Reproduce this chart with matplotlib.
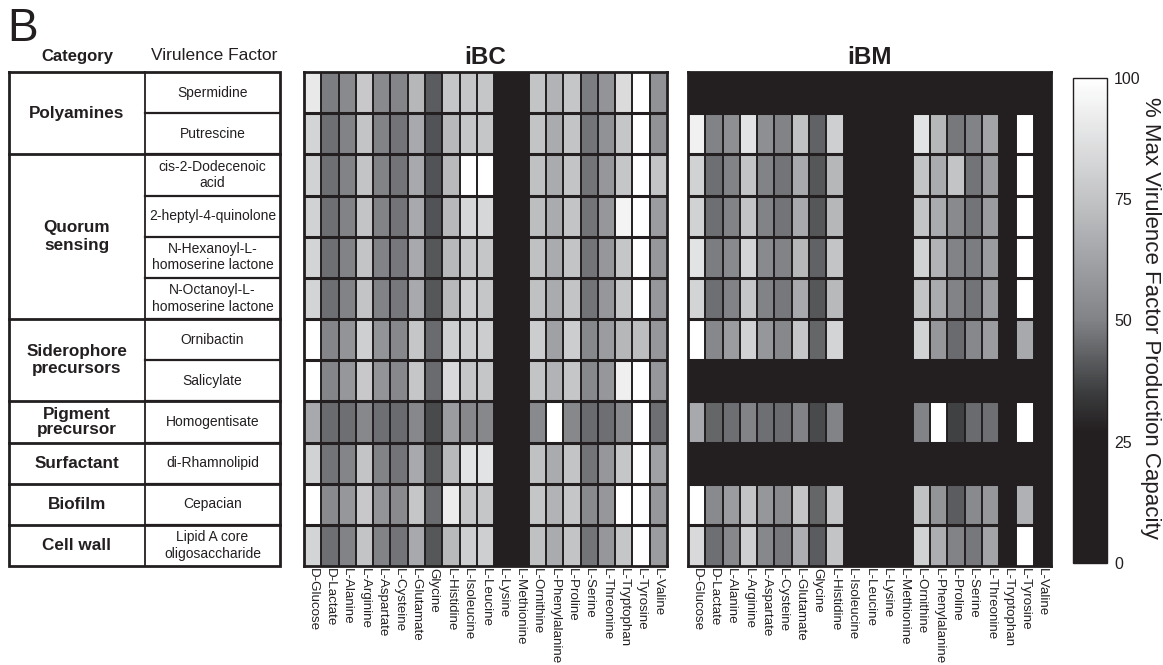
import numpy as np
import matplotlib
matplotlib.use("Agg")
import matplotlib.pyplot as plt
from matplotlib.colors import LinearSegmentedColormap

plt.rcParams['font.family'] = ['Liberation Sans', 'DejaVu Sans']

# ---------------- data ----------------
amino_acids = ["D-Glucose", "D-Lactate", "L-Alanine", "L-Arginine", "L-Aspartate",
               "L-Cysteine", "L-Glutamate", "Glycine", "L-Histidine", "L-Isoleucine",
               "L-Leucine", "L-Lysine", "L-Methionine", "L-Ornithine", "L-Phenylalanine",
               "L-Proline", "L-Serine", "L-Threonine", "L-Tryptophan", "L-Tyrosine", "L-Valine"]

virulence_factors = ["Spermidine", "Putrescine", "cis-2-Dodecenoic\nacid", "2-heptyl-4-quinolone",
                     "N-Hexanoyl-L-\nhomoserine lactone", "N-Octanoyl-L-\nhomoserine lactone",
                     "Ornibactin", "Salicylate", "Homogentisate", "di-Rhamnolipid", "Cepacian",
                     "Lipid A core\noligosaccharide"]

category_names = ["Polyamines", "Quorum\nsensing", "Siderophore\nprecursors", "Pigment\nprecursor",
                  "Surfactant", "Biofilm", "Cell wall"]
category_spans = [2, 4, 2, 1, 1, 1, 1]

ibc_values = [
    [91, 49, 53, 77, 53, 51, 70, 42, 76, 76, 76, 0, 0, 75, 69, 76, 49, 57, 85, 100, 56],
    [82, 46, 50, 75, 50, 47, 65, 40, 71, 76, 76, 0, 0, 75, 66, 75, 47, 56, 76, 100, 56],
    [81, 46, 50, 75, 50, 47, 65, 40, 71, 100, 100, 0, 0, 74, 66, 75, 47, 58, 76, 100, 75],
    [81, 46, 50, 75, 50, 47, 65, 40, 71, 83, 83, 0, 0, 73, 66, 75, 47, 58, 95, 100, 60],
    [82, 46, 50, 75, 50, 48, 65, 41, 71, 76, 76, 0, 0, 74, 66, 75, 47, 58, 76, 100, 58],
    [82, 46, 50, 75, 50, 48, 65, 41, 71, 79, 76, 0, 0, 74, 66, 75, 47, 58, 76, 100, 58],
    [100, 51, 57, 80, 57, 52, 76, 45, 80, 79, 79, 0, 0, 79, 62, 79, 52, 60, 70, 73, 58],
    [100, 51, 58, 77, 57, 52, 76, 45, 84, 76, 76, 0, 0, 75, 69, 76, 52, 58, 93, 100, 58],
    [65, 45, 46, 52, 46, 45, 52, 38, 60, 52, 52, 0, 0, 53, 100, 52, 45, 46, 53, 100, 46],
    [81, 47, 51, 75, 50, 47, 65, 41, 71, 88, 88, 0, 0, 74, 66, 75, 47, 58, 76, 100, 62],
    [100, 53, 58, 77, 57, 53, 76, 45, 92, 76, 76, 0, 0, 76, 69, 76, 53, 58, 100, 100, 58],
    [82, 46, 50, 75, 50, 47, 65, 41, 71, 80, 80, 0, 0, 74, 66, 75, 47, 58, 76, 100, 60],
]

ibm_values = [
    [0] * 21,
    [94, 50, 55, 88, 55, 50, 74, 43, 80, 0, 0, 0, 0, 88, 70, 48, 50, 63, 0, 100, 0],
    [81, 46, 50, 75, 50, 47, 65, 41, 70, 0, 0, 0, 0, 75, 66, 75, 47, 60, 0, 100, 0],
    [81, 46, 50, 75, 50, 47, 65, 41, 70, 0, 0, 0, 0, 75, 66, 53, 47, 60, 0, 100, 0],
    [88, 49, 53, 82, 53, 50, 70, 43, 75, 0, 0, 0, 0, 81, 69, 50, 49, 60, 0, 100, 0],
    [82, 46, 50, 76, 50, 48, 65, 41, 71, 0, 0, 0, 0, 75, 66, 50, 47, 60, 0, 100, 0],
    [100, 52, 60, 81, 58, 52, 76, 44, 82, 0, 0, 0, 0, 81, 58, 45, 52, 60, 0, 65, 0],
    [0] * 21,
    [65, 44, 46, 50, 46, 45, 50, 38, 50, 0, 0, 0, 0, 50, 100, 36, 45, 46, 0, 100, 0],
    [0] * 21,
    [100, 53, 60, 75, 58, 53, 75, 44, 75, 0, 0, 0, 0, 74, 57, 42, 53, 58, 0, 68, 0],
    [84, 46, 52, 80, 52, 48, 67, 42, 75, 0, 0, 0, 0, 81, 67, 50, 48, 63, 0, 100, 0],
]

colorbar_ticks = [0, 25, 50, 75, 100]

# ---------------- style ----------------
DARK = '#231f20'
cmap = LinearSegmentedColormap.from_list("vf", [
    (0.00, (35/255, 31/255, 32/255)),
    (0.27, (35/255, 31/255, 32/255)),
    (0.35, (59/255, 60/255, 62/255)),
    (0.50, (129/255, 130/255, 133/255)),
    (0.75, (194/255, 195/255, 197/255)),
    (1.00, (1.0, 1.0, 1.0)),
])

W, H = 1163, 665
fig = plt.figure(figsize=(W / 100, H / 100), dpi=100)


def fx(px):
    return px / W


def fy(py):
    return 1 - py / H


top_px, bot_px = 72, 566

# ---------------- table ----------------
ax_t = fig.add_axes([fx(9), fy(bot_px), fx(280 - 9), (bot_px - top_px) / H])
ax_t.set_xlim(0, 271)
ax_t.set_ylim(len(virulence_factors), 0)
ax_t.axis('off')
div_x = 136
ax_t.plot([0, 271, 271, 0, 0], [0, 0, 12, 12, 0], color=DARK, lw=2, clip_on=False,
          solid_joinstyle='miter')
ax_t.plot([div_x, div_x], [0, 12], color=DARK, lw=1.3, clip_on=False)
for i in range(1, len(virulence_factors)):
    ax_t.plot([div_x, 271], [i, i], color=DARK, lw=1.6, clip_on=False)
for i, name in enumerate(virulence_factors):
    ax_t.text((div_x + 271) / 2, i + 0.5, name, ha='center', va='center', fontsize=10,
              color=DARK)
start = 0
for name, span in zip(category_names, category_spans):
    if start > 0:
        ax_t.plot([0, 271], [start, start], color=DARK, lw=2, clip_on=False)
    ls = 1.0 if name.startswith("Pigment") else 1.2
    ax_t.text(div_x / 2, start + span / 2, name, ha='center', va='center', fontsize=12.3,
              fontweight='bold', color=DARK, linespacing=ls)
    start += span

fig.text(fx(7), fy(29), "B", fontsize=33, ha='left', va='center', color=DARK)
fig.text(fx(77), fy(56), "Category", fontsize=12, fontweight='bold', ha='center',
         va='center', color=DARK)
fig.text(fx(214), fy(55), "Virulence Factor", fontsize=12.5, ha='center', va='center',
         color=DARK)


# ---------------- heatmaps ----------------
def heat(left_px, right_px, values, title):
    ax = fig.add_axes([fx(left_px), fy(bot_px), (right_px - left_px) / W,
                       (bot_px - top_px) / H])
    arr = np.array(values, dtype=float)
    m = ax.pcolormesh(arr, cmap=cmap, vmin=0, vmax=100)
    nr, nc = arr.shape
    ax.set_xlim(0, nc)
    ax.set_ylim(nr, 0)
    for i in range(1, nr):
        ax.axhline(i, color=DARK, lw=2.2)
    for j in range(1, nc):
        ax.axvline(j, color=DARK, lw=1.4)
    for s in ax.spines.values():
        s.set_linewidth(2)
        s.set_color(DARK)
    ax.set_yticks([])
    ax.set_xticks(np.arange(nc) + 0.5)
    ax.set_xticklabels(amino_acids, rotation=-90, fontsize=9.6, color=DARK)
    ax.tick_params(axis='x', length=0, pad=1.5)
    ax.set_title(title, fontsize=17.5, fontweight='bold', pad=6, color=DARK)
    return m


mesh = heat(304, 667, ibc_values, "iBC")
heat(688, 1051, ibm_values, "iBM")

# ---------------- colorbar ----------------
cax = fig.add_axes([fx(1073), fy(563), fx(1107 - 1073), (563 - 78) / H])
cb = fig.colorbar(mesh, cax=cax, ticks=colorbar_ticks)
cb.ax.tick_params(length=0, labelsize=11.5, pad=5, colors=DARK)
cb.outline.set_linewidth(1)
cb.outline.set_edgecolor(DARK)
fig.text(fx(1151), fy(318), "% Max Virulence Factor Production Capacity", rotation=-90,
         ha='center', va='center', fontsize=16, color=DARK)

fig.savefig("out.png", dpi=100)
